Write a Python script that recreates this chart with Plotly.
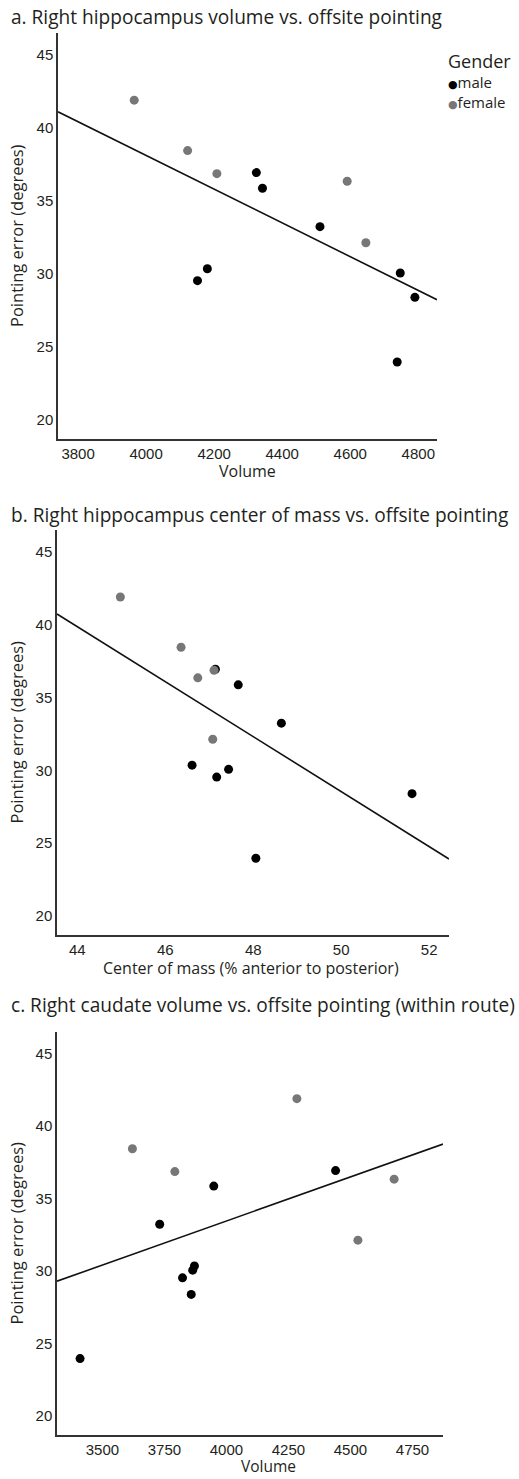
import numpy as np
import plotly.graph_objects as go

# ---- data ----
# pointing error (degrees) per subject, same subjects in every panel
male_err = [36.94, 35.87, 33.24, 30.36, 29.54, 30.07, 28.40, 23.97]
female_err = [41.90, 38.45, 36.87, 36.35, 32.14]

# a. right hippocampus volume
a_male_x = [4324, 4342, 4511, 4180, 4151, 4747, 4790, 4738]
a_female_x = [3965, 4122, 4208, 4591, 4646]

# b. right hippocampus center of mass (% anterior to posterior)
b_male_x = [47.14, 47.66, 48.64, 46.61, 47.17, 47.44, 51.61, 48.06]
b_female_x = [44.98, 46.36, 47.11, 46.74, 47.08]

# c. right caudate volume
c_male_x = [4440, 3949, 3731, 3871, 3823, 3864, 3858, 3410]
c_female_x = [4284, 3621, 3792, 4676, 4530]

titles = ["a. Right hippocampus volume vs. offsite pointing",
          "b. Right hippocampus center of mass vs. offsite pointing",
          "c. Right caudate volume vs. offsite pointing (within route)"]
x_titles = ["Volume", "Center of mass (% anterior to posterior)", "Volume"]
y_title = "Pointing error (degrees)"
x_ticks = [[3800, 4000, 4200, 4400, 4600, 4800],
           [44, 46, 48, 50, 52],
           [3500, 3750, 4000, 4250, 4500, 4750]]
y_ticks = [20, 25, 30, 35, 40, 45]
x_ranges = [[3741, 4855], [43.54, 52.45], [3317, 4873]]
y_range = [18.7, 46.5]
legend_title = "Gender"
legend_labels = ["male", "female"]

W, H = 519, 1479
# plot areas in pixels: (left, right, top, bottom)
boxes = [(58, 437, 33, 439), (57, 449, 530, 935), (57, 443, 1032, 1435)]
title_y = [17, 515, 1005]
# x-axis title: (center x, y, anchor, size) in pixels
xtitle = [(247, 471, "middle", 16), (251, 967.5, "middle", 16),
          (269, 1479, "bottom", 15.5)]

MALE = "#000000"
FEMALE = "#777777"
TXT = "#231f20"
TITLE_FONT = "Open Sans"
TICK_FONT = "Liberation Sans"

panels = [(a_male_x, a_female_x), (b_male_x, b_female_x), (c_male_x, c_female_x)]

fig = go.Figure()
layout = dict(width=W, height=H, margin=dict(l=0, r=0, t=0, b=0),
              paper_bgcolor="white", plot_bgcolor="white", showlegend=False,
              annotations=[])

for i, (mx, fx) in enumerate(panels):
    n = "" if i == 0 else str(i + 1)
    xa, ya = "x" + n, "y" + n
    allx = np.array(mx + fx, dtype=float)
    ally = np.array(male_err + female_err, dtype=float)
    k, b0 = np.polyfit(allx, ally, 1)
    lx = np.array(x_ranges[i], dtype=float)
    fig.add_trace(go.Scatter(x=lx, y=k * lx + b0, mode="lines",
                             line=dict(color="#111111", width=1.6),
                             xaxis=xa, yaxis=ya, hoverinfo="skip"))
    fig.add_trace(go.Scatter(x=mx, y=male_err, mode="markers", name="male",
                             marker=dict(color=MALE, size=9),
                             xaxis=xa, yaxis=ya))
    fig.add_trace(go.Scatter(x=fx, y=female_err, mode="markers", name="female",
                             marker=dict(color=FEMALE, size=9),
                             xaxis=xa, yaxis=ya))
    l, r, t, bt = boxes[i]
    axis_common = dict(showgrid=False, zeroline=False, showline=True,
                       linecolor="#333333", linewidth=1.5, ticks="",
                       tickfont=dict(family=TICK_FONT, size=15, color=TXT))
    layout["xaxis" + n] = dict(axis_common, domain=[l / W, r / W],
                               range=x_ranges[i], tickvals=x_ticks[i],
                               anchor=ya)
    layout["yaxis" + n] = dict(axis_common, domain=[1 - bt / H, 1 - t / H],
                               range=y_range, tickvals=y_ticks, anchor=xa)
    layout["annotations"].append(dict(
        text=titles[i], xref="paper", yref="paper", x=9 / W,
        y=1 - title_y[i] / H, xanchor="left", yanchor="middle",
        showarrow=False, font=dict(family=TITLE_FONT, size=19.1, color=TXT)))
    cx, cy, anc, fs = xtitle[i]
    layout["annotations"].append(dict(
        text=x_titles[i], xref="paper", yref="paper", x=cx / W,
        y=1 - cy / H, xanchor="center", yanchor=anc,
        showarrow=False, font=dict(family=TITLE_FONT, size=fs, color=TXT)))
    layout["annotations"].append(dict(
        text=y_title, xref="paper", yref="paper", x=16 / W,
        y=1 - ((t + bt) / 2) / H, xanchor="center", yanchor="middle",
        textangle=-90, showarrow=False,
        font=dict(family=TITLE_FONT, size=16.5, color=TXT)))

# legend (panel a)
layout["annotations"].append(dict(
    text=legend_title, xref="paper", yref="paper", x=446 / W, y=1 - 61 / H,
    xanchor="left", yanchor="middle", showarrow=False,
    font=dict(family=TITLE_FONT, size=18, color=TXT)))
legend_lines = ["<span style='font-family:DejaVu Sans;font-size:11px;color:%s'>●</span>%s"
                % (col, lab) for lab, col in zip(legend_labels, [MALE, FEMALE])]
layout["annotations"].append(dict(
    text="<br>".join(legend_lines), xref="paper", yref="paper", x=446 / W,
    y=1 - 92 / H, xanchor="left", yanchor="middle", align="left",
    showarrow=False, font=dict(family=TITLE_FONT, size=15, color=TXT)))

fig.update_layout(**layout)
fig.write_html("out.html", config={"displayModeBar": False},
               post_script="document.body.style.margin='0';")
